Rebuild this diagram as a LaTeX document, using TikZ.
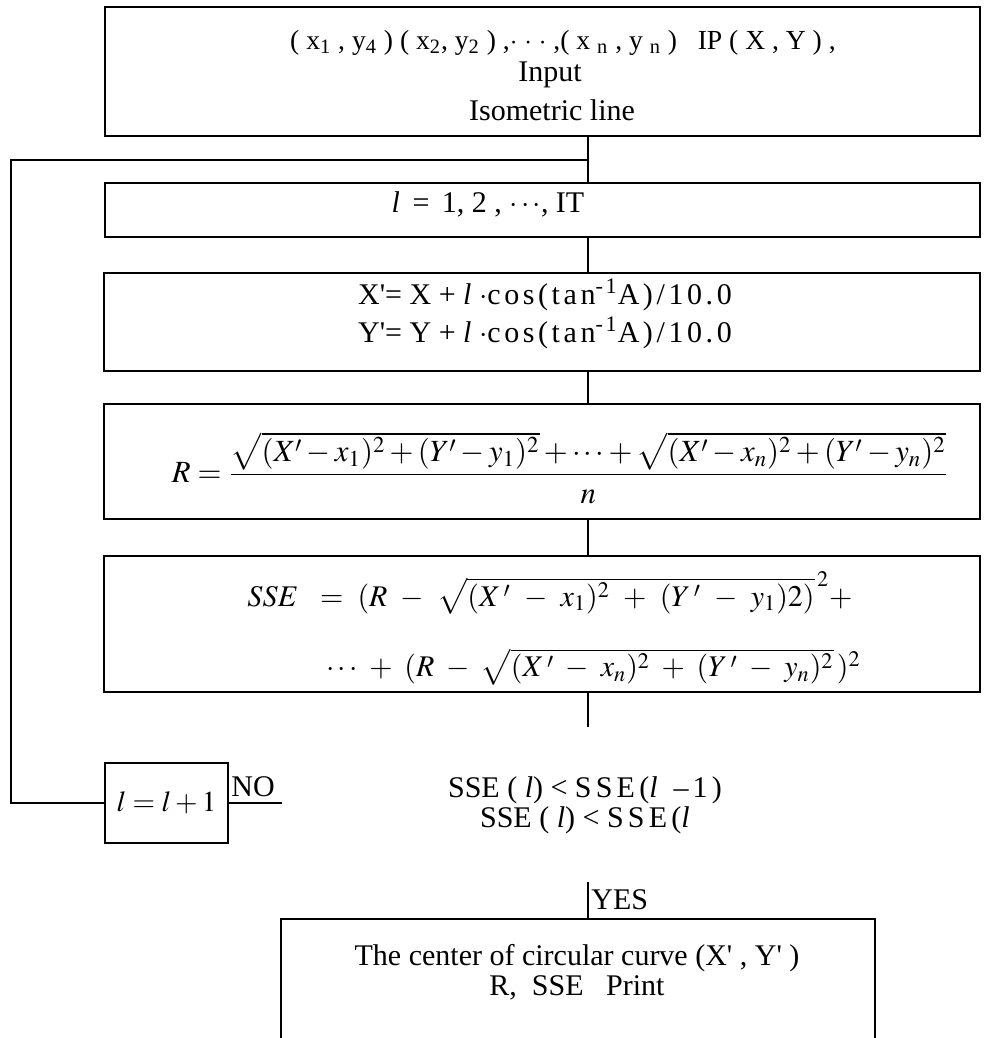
\documentclass[tikz,border=0pt]{standalone}
\usepackage{mathptmx}
\usepackage[no-math]{fontspec}
\setmainfont{Liberation Serif}
\usetikzlibrary{positioning,calc}
\tikzset{
  box/.style={draw,line width=1pt,inner sep=0pt},
  lbl/.style={inner sep=0pt,align=center,font=\fontsize{15}{17.5}\selectfont},
  wire/.style={line width=1pt}
}
\newcommand{\wide}[1]{{\addfontfeature{LetterSpace=12}#1}}
\newcommand{\q}{\textquotesingle}

\begin{document}
\begin{tikzpicture}[x=0.5pt,y=-0.5pt]
\useasboundingbox (0,0) rectangle (984,1038);
\coordinate (sp) at (588,0);
\coordinate (jn) at (588,160);
\coordinate (lp) at (11,160);
% input
\node[box,minimum width=437.5pt,minimum height=64.5pt] (inp) at (542.5,71.5) {};
\node[lbl,font=\fontsize{13.8}{16}\selectfont] (inpA) at (563,43) {( x\textsubscript{1} , y\textsubscript{4} ) ( x\textsubscript{2}, y\textsubscript{2} ) ,$\cdot\,\cdot\,\cdot$ ,( x \textsubscript{n} , y \textsubscript{n} )\ \ \ IP ( X , Y ) ,};
\node[lbl] (inpB) at (550,75) {Input};
\node[lbl] (inpC) at (552,110) {Isometric line};
% loop
\node[box,minimum width=437.5pt,minimum height=27pt] (itr) at (542.5,210) {};
\node[lbl] (itrT) at (488,204) {\textit{l} \,= \,1, 2 , $\cdots$, IT};
\node[box,minimum width=438pt,minimum height=49pt] (mov) at (542,322) {};
\node[lbl] (movA) at (545,295) {X\q= X + \textit{l} $\cdot$\wide{cos(tan\textsuperscript{-1}A)/10.0}};
\node[lbl] (movB) at (545,333) {Y\q= Y + \textit{l} $\cdot$\wide{cos(tan\textsuperscript{-1}A)/10.0}};
\node[box,minimum width=438pt,minimum height=57.5pt] (rad) at (542,461.5) {};
\node[lbl,font=\fontsize{15.4}{18}\selectfont] (radT) at (560,468) {$\displaystyle R=\frac{\sqrt{(X'-x_1)^2+(Y'-y_1)^2}+\cdots+\sqrt{(X'-x_n)^2+(Y'-y_n)^2}}{n}$};
\node[box,minimum width=438pt,minimum height=68pt] (sse) at (542,624) {};
\node[lbl,anchor=west] (sseA) at (247,593) {$\medmuskip=8mu SSE\ \ =\ (R-\sqrt{(X\,'-x_1)^2+(Y\,'-y_1)2)}^{\,2}+$};
\node[lbl,anchor=east] (sseB) at (861,667) {$\medmuskip=7mu \cdots+(R-\sqrt{(X\,'-x_n)^2+(Y\,'-y_n)^2}\,)^2$};
% test
\coordinate (dtop) at (588,727);
\node[lbl] (cmpA) at (585,790) {SSE ( \textit{l}) < {\addfontfeature{LetterSpace=14}SSE(\textit{l} –1)}};
\node[lbl] (cmpB) at (587,820) {SSE ( \textit{l}) < {\addfontfeature{LetterSpace=14}SSE(\textit{l}}};
\node[box,lbl,font=\fontsize{14.5}{17}\selectfont,minimum width=61.5pt,minimum height=40pt] (inc) at (166.5,803) {$l=l+1$};
\coordinate (noend) at (282,803);
\node[lbl,anchor=south west] (noT) at (231,797) {NO};
\coordinate (ytop) at (588,882);
\node[lbl,anchor=west] (yesT) at (591,900) {YES};
% output
\node[box,minimum width=297pt,minimum height=81pt] (out) at (578,1000) {};
\node[lbl] (outA) at (577,958) {The center of circular curve (X\q\ , Y\q\ )};
\node[lbl] (outB) at (577,988) {R,\ \ SSE\ \ \ Print};
\draw[wire] (inp.south -| sp) -- (itr.north -| sp);
\draw[wire] (jn) -- (lp) |- (inc.west);
\draw[wire] (itr.south -| sp) -- (mov.north -| sp);
\draw[wire] (mov.south -| sp) -- (rad.north -| sp);
\draw[wire] (rad.south -| sp) -- (sse.north -| sp);
\draw[wire] (sse.south -| sp) -- (dtop);
\draw[wire] (inc.east) -- (noend);
\draw[wire] (ytop) -- (out.north -| sp);
\end{tikzpicture}
\end{document}
